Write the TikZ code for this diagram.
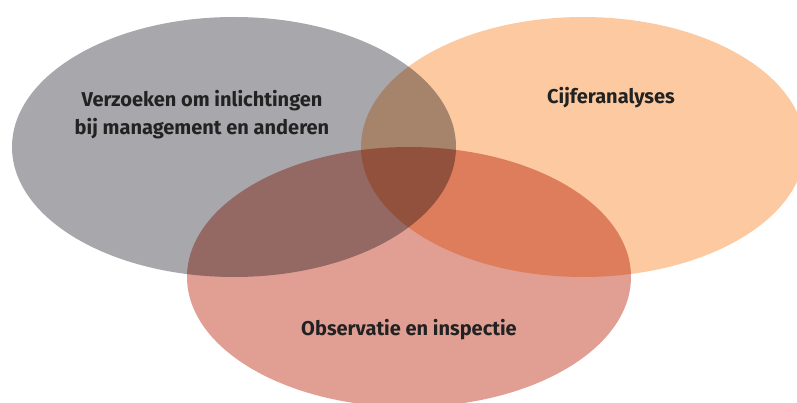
\documentclass[tikz,border=0pt]{standalone}
\usepackage{fontspec}
\setsansfont{Fira Sans}
\usetikzlibrary{positioning, shapes.geometric}
\definecolor{vennGray}{HTML}{A8A7AC}
\definecolor{vennOrange}{HTML}{FCC9A0}
\definecolor{vennSalmon}{HTML}{E19F93}
\definecolor{textdark}{HTML}{222222}

\begin{document}
\begin{tikzpicture}[
    x=1pt, y=-1pt,
    blob/.style={
        ellipse, fill=#1, draw=none,
        minimum width=444pt, minimum height=260pt,
        inner sep=0pt, outer sep=0pt
    },
    caption/.style={
        font=\sffamily\bfseries\fontsize{20}{28}\selectfont,
        text=textdark, align=center
    }
]
\useasboundingbox (0,0) rectangle (797,403);
\clip (0,0) rectangle (797,403);

% Circles, multiplied where they overlap
\begin{scope}[blend group=multiply]
    \node[blob=vennGray] (inquiry) at (234,147) {};
    \node[blob=vennOrange] (analysis) at (583,147) {};
    \node[blob=vennSalmon] (observe) at (409,277) {};
\end{scope}

% Labels
\node[caption] (inquirytext) at (202,115) {Verzoeken om inlichtingen\\bij management en anderen};
\node[caption] (analysistext) at (611,98) {Cijferanalyses};
\node[caption] (observetext) at (409,330) {Observatie en inspectie};

\end{tikzpicture}
\end{document}
